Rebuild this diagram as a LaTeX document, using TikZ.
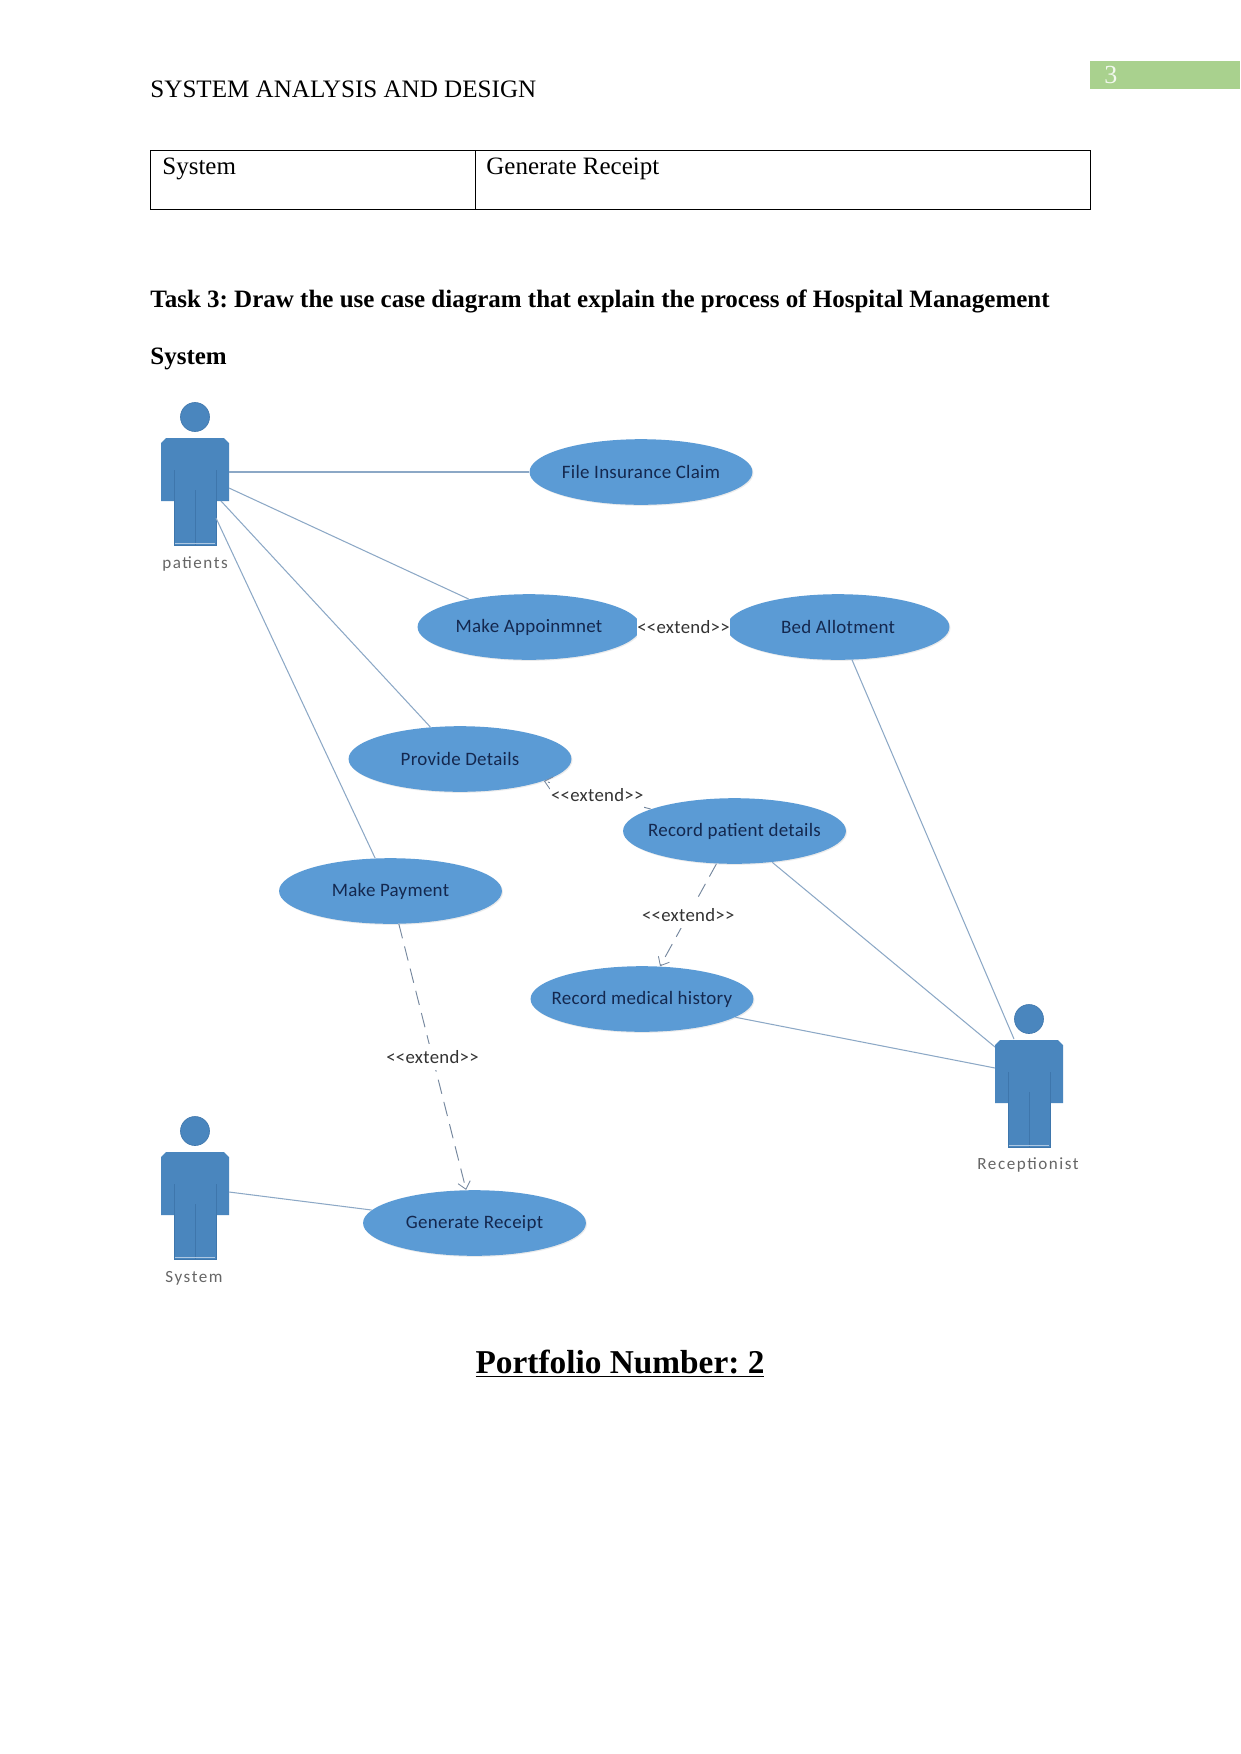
\documentclass[tikz,border=0pt]{standalone}
\usepackage{fontspec}
\setmainfont{Liberation Serif}
\newfontfamily\diagramfont{Carlito}[LetterSpace=1.5]
\newfontfamily\actorfont{Carlito}[LetterSpace=9]
\usetikzlibrary{shapes.geometric,arrows.meta,shadows}
\definecolor{casefill}{HTML}{5B9BD5}
\definecolor{actorfill}{HTML}{4A86BE}
\definecolor{actorline}{HTML}{3E76AC}
\definecolor{assocline}{HTML}{8CA8C6}
\definecolor{extendcolor}{HTML}{75879E}
\definecolor{casetext}{HTML}{14284F}
\definecolor{pageband}{HTML}{A9D18E}
% keeps every use case the same size whatever the length of its name
\newcommand{\casename}[1]{\makebox[0pt][c]{#1}}
\tikzset{
  x=0.48pt, y=-0.48pt,
  usecase/.style={ellipse, fill=casefill, minimum width=107pt, minimum height=31.5pt,
    inner sep=0pt, text=casetext, font=\diagramfont\fontsize{9.1}{10}\selectfont,
    drop shadow={shadow xshift=0.5pt, shadow yshift=-0.5pt, fill=black!25, opacity=0.3}},
  caselabel/.style={fill=white, inner xsep=0.4pt, inner ysep=3pt, text=black!80, font=\diagramfont\fontsize{9}{10}\selectfont},
  actorlabel/.style={text=black!60, font=\actorfont\fontsize{8.2}{10}\selectfont},
  assoc/.style={draw=assocline, line width=0.5pt},
  extendline/.style={draw=extendcolor, line width=0.45pt, dash pattern=on 7pt off 4pt,
    -{Straight Barb[length=3.5pt,width=6pt,line width=0.4pt]}},
  plaintext/.style={inner sep=0pt, anchor=base west, font=\fontsize{12}{14}\selectfont},
  headingtext/.style={plaintext, font=\bfseries\fontsize{12}{14}\selectfont},
  tablecell/.style={draw=black, line width=0.4pt},
  pics/stickman/.style={code={
    \fill[actorfill] (0,0) circle[radius=14.5];
    \draw[actorline, line width=0.3pt] (0,0) circle[radius=14.5];
    \fill[actorfill] (-34,26) -- (-29,21) -- (29,21) -- (34,26) -- (34,84) -- (21,84)
      -- (21,128) -- (-21,128) -- (-21,84) -- (-34,84) -- cycle;
    \draw[actorline, line width=0.4pt] (-21,53) -- (-21,128) -- (21,128) -- (21,53);
    \draw[actorline, line width=0.4pt] (0,73) -- (0,128);
    \draw[white!55!actorfill, line width=0.4pt] (-20,126) -- (20,126);
  }}
}
\begin{document}
\frenchspacing
\begin{tikzpicture}
\useasboundingbox (0,0) rectangle (1241,1754);
\fill[white] (0,0) rectangle (1241,1754);

% running header and page number
\fill[pageband] (1090,61) rectangle (1240,89);
\node[inner sep=0pt, text=white!85!pageband, font=\fontsize{12.5}{14}\selectfont] (pageno) at (1111,75) {3};
\node[plaintext, font=\fontsize{12.05}{14}\selectfont] (header) at (150,97) {SYSTEM ANALYSIS AND DESIGN};

% table row
\draw[tablecell] (150,150) rectangle (475,209);
\draw[tablecell] (475,150) rectangle (1090,209);
\node[plaintext] (cellA) at (162,174) {System};
\node[plaintext] (cellB) at (486,174) {Generate Receipt};

% task heading
\node[headingtext] (taskA) at (150,307) {Task 3: Draw the use case diagram that explain the process of Hospital Management};
\node[headingtext] (taskB) at (150,364) {System};

% actors
\pic at (195,417) {stickman};
\pic at (1029,1019) {stickman};
\pic at (195,1131) {stickman};
\node[actorlabel] (patients) at (195,564) {patients};
\node[actorlabel] (receptionist) at (1028,1165) {Receptionist};
\node[actorlabel] (system) at (194,1278) {System};

% attachment points on the actors
\coordinate (patA) at (229,472);
\coordinate (patB) at (229,488);
\coordinate (patC) at (221,501);
\coordinate (patD) at (216,518);
\coordinate (recA) at (1014,1039);
\coordinate (recB) at (995,1047);
\coordinate (recC) at (995,1068);
\coordinate (sysA) at (229,1192);

% use cases
\node[usecase] (file) at (641,472) {\casename{File Insurance Claim}};
\node[usecase] (appoint) at (529,627) {\casename{Make Appoinmnet}};
\node[usecase] (bed) at (838,627) {\casename{Bed Allotment}};
\node[usecase] (details) at (460,759) {\casename{Provide Details}};
\node[usecase] (record) at (734.5,831) {\casename{Record patient details}};
\node[usecase] (history) at (642,999) {\casename{Record medical history}};
\node[usecase] (payment) at (390.5,891) {\casename{Make Payment}};
\node[usecase] (receipt) at (474.5,1223) {\casename{Generate Receipt}};

% associations
\draw[assoc] (patA) -- (file);
\draw[assoc] (patB) -- (appoint);
\draw[assoc] (patC) -- (details);
\draw[assoc] (patD) -- (payment);
\draw[assoc] (recA) -- (bed);
\draw[assoc] (recB) -- (record);
\draw[assoc] (recC) -- (history);
\draw[assoc] (sysA) -- (receipt);

% extend relationships
\draw[extendline] (record) -- node[caselabel, pos=0.5] (extB) {<<extend>>} (details);
\draw[extendline] (record) -- node[caselabel, pos=0.5] (extC) {<<extend>>} (history);
\draw[extendline] (payment) -- node[caselabel, pos=0.5] (extD) {<<extend>>} (receipt);
\draw[extendline] (bed) -- node[caselabel] (extA) {<<extend>>} (appoint);

% portfolio caption
\node[inner sep=0pt, anchor=base, font=\bfseries\fontsize{16}{18}\selectfont] (portfolio) at (620,1373) {\underline{Portfolio Number: 2}};
\end{tikzpicture}
\end{document}
